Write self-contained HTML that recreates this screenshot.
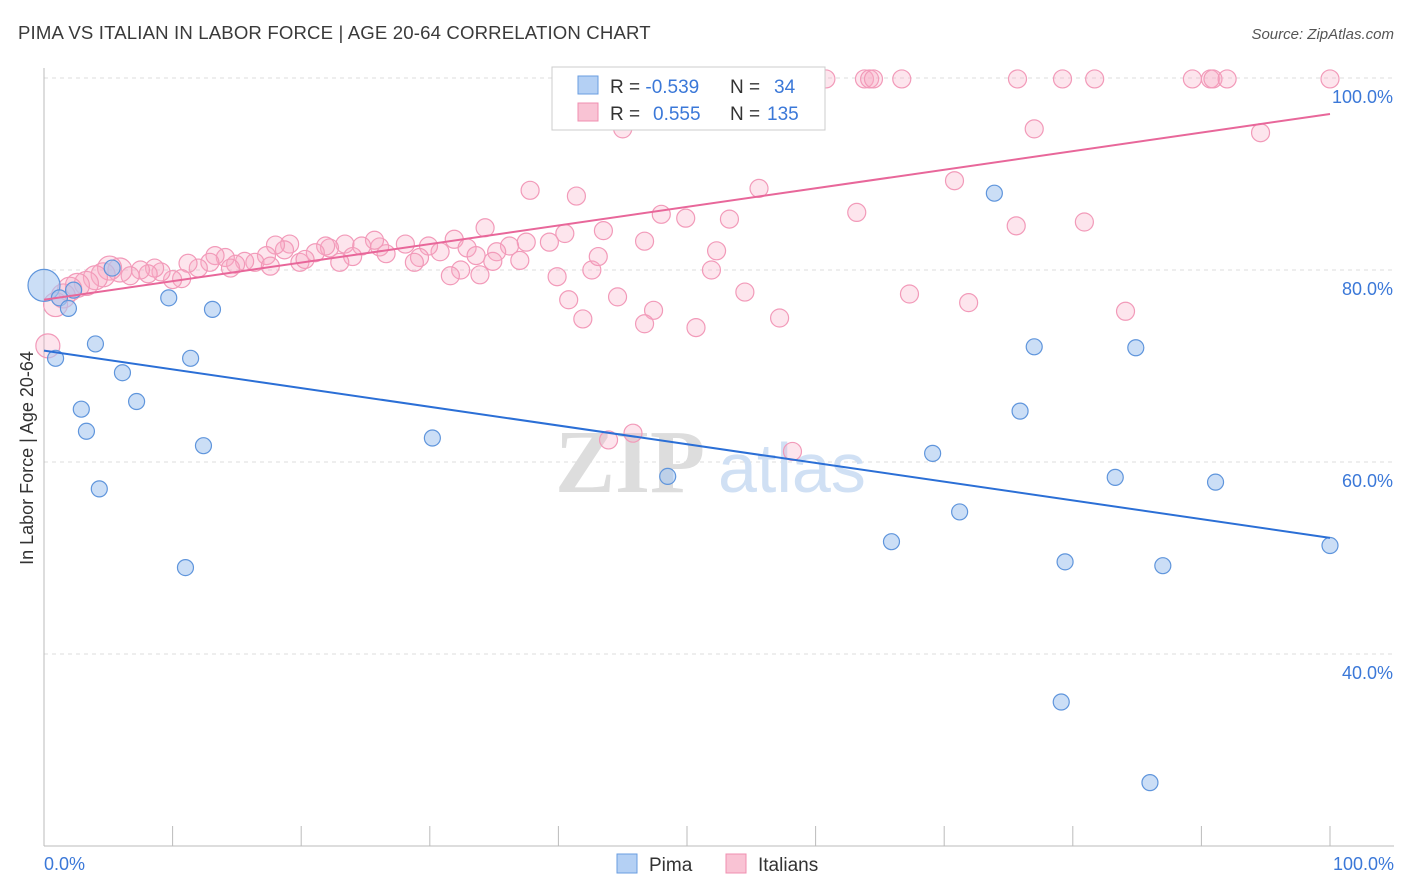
<!DOCTYPE html>
<html><head><meta charset="utf-8"><style>
body{margin:0;background:#fff;font-family:"Liberation Sans",sans-serif;}
svg{display:block}
</style></head><body>
<svg id="chart" width="1406" height="892">
<text x="18" y="39" font-size="18.6" letter-spacing="0.15" fill="#3a3a3a">PIMA VS ITALIAN IN LABOR FORCE | AGE 20-64 CORRELATION CHART</text>
<text x="1394" y="39" font-size="15" fill="#555" text-anchor="end" font-style="italic">Source: ZipAtlas.com</text>
<text x="33" y="458" font-size="18" fill="#333" text-anchor="middle" transform="rotate(-90 33 458)">In Labor Force | Age 20-64</text>
<g id="grid"></g>
<text x="555" y="492" font-size="90" fill="#ddd" font-family="Liberation Serif" font-weight="bold">ZIP</text>
<text x="718" y="492" font-size="70" fill="#d0e0f4">atlas</text>
<g id="pts"></g>
<g id="lines"></g>
<g>
<rect x="552" y="67" width="273" height="63" fill="#fff" stroke="#ccc"/>
<rect x="578" y="76" width="20" height="18" fill="#b4d0f4" stroke="#6a9ee0"/>
<rect x="578" y="103" width="20" height="18" fill="#f9c3d4" stroke="#f08fb0"/>
<text x="610" y="93" font-size="19" fill="#333">R = <tspan fill="#3b78d8">-0.539</tspan><tspan x="730">N = </tspan><tspan fill="#3b78d8" x="774">34</tspan></text>
<text x="610" y="120" font-size="19" fill="#333">R = <tspan fill="#3b78d8" x="653">0.555</tspan><tspan x="730">N = </tspan><tspan fill="#3b78d8" x="767">135</tspan></text>
</g>
<g>
<rect x="617" y="854" width="20" height="19" fill="#b4d0f4" stroke="#6a9ee0"/>
<text x="649" y="871" font-size="19" fill="#333">Pima</text>
<rect x="726" y="854" width="20" height="19" fill="#f9c3d4" stroke="#f08fb0"/>
<text x="758" y="871" font-size="19" fill="#333">Italians</text>
</g>
</svg>
<script>
const yTicks=[40,60,80,100];
const yTickLabels=["40.0%","60.0%","80.0%","100.0%"];
const xTickLabels=["0.0%","100.0%"];
const pimaX=[0,0.9,1.2,1.9,2.3,4.0,2.9,3.3,4.3,6.1,7.2,5.3,9.7,11.4,13.1,12.4,11.0,30.2,48.5,65.9,69.1,71.2,73.9,75.9,77.0,79.4,83.3,84.9,87.0,91.1,100,79.1,86.0];
const pimaY=[78.4,70.8,77.1,76.0,77.9,72.3,65.5,63.2,57.2,69.3,66.3,80.2,77.1,70.8,75.9,61.7,49.0,62.5,58.5,51.7,60.9,54.8,88.0,65.3,72.0,49.6,58.4,71.9,49.2,57.9,51.3,35.0,26.6];
const itaX=[48.1,53.0,53.7,55.7,56.3,56.7,58.8,60.8,63.8,64.2,64.5,66.7,75.7,79.2,81.7,89.3,90.7,90.9,92.0,100,
45.0,77.0,94.6,37.8,41.4,55.6,70.8,63.2,80.9,75.6,48.0,49.9,53.3,34.3,40.5,43.5,46.7,52.3,39.3,37.5,36.2,35.2,31.9,32.9,33.6,30.8,29.9,28.1,26.1,26.6,25.7,24.7,23.4,22.2,21.9,21.1,19.9,20.3,19.1,18.7,18.0,17.3,16.4,15.6,14.9,14.1,13.3,12.9,12.0,11.2,10.7,10.0,9.1,8.6,8.1,7.5,6.7,5.9,5.1,4.6,4.0,3.3,2.6,2.0,1.5,0.9,0.3,37.0,34.9,32.4,31.6,33.9,39.9,42.6,43.1,51.9,40.8,41.9,44.6,47.4,46.7,50.7,54.5,57.2,67.3,71.9,84.1,43.9,45.8,58.2,29.2,28.8,24.0,23.0,17.6,14.5];
const itaY=[99.9,99.9,99.9,99.9,99.9,99.9,99.9,99.9,99.9,99.9,99.9,99.9,99.9,99.9,99.9,99.9,99.9,99.9,99.9,99.9,
94.7,94.7,94.3,88.3,87.7,88.5,89.3,86.0,85.0,84.6,85.8,85.4,85.3,84.4,83.8,84.1,83.0,82.0,82.9,82.9,82.5,81.9,83.2,82.3,81.5,81.9,82.5,82.7,82.4,81.7,83.1,82.5,82.7,82.3,82.5,81.8,80.8,81.1,82.7,82.1,82.6,81.5,80.8,80.9,80.6,81.3,81.5,80.8,80.2,80.7,79.1,79.0,79.8,80.2,79.6,80.0,79.4,80.0,80.2,79.5,79.2,78.6,78.4,78.0,77.3,76.4,72.1,81.0,80.9,80.0,79.4,79.5,79.3,80.0,81.4,80.0,76.9,74.9,77.2,75.8,74.4,74.0,77.7,75.0,77.5,76.6,75.7,62.3,63.0,61.1,81.3,80.8,81.4,80.8,80.4,80.2];
const pimaTrend=[71.6,52.1];
const itaTrend=[76.9,96.25];
const NS="http://www.w3.org/2000/svg";
const X=v=>44+v*12.86, Y=v=>78+(100-v)*9.6;
function mk(t,a,p){const e=document.createElementNS(NS,t);for(const k in a)e.setAttribute(k,a[k]);p.appendChild(e);return e;}
const grid=document.getElementById('grid');
yTicks.forEach((t,i)=>{
 const l=mk('line',{x1:44,x2:1394,y1:Y(t),y2:Y(t),stroke:'#ddd','stroke-dasharray':'4 4'},grid);
 
 
 const tx=mk('text',{x:1393,y:Y(t)+25,'font-size':18,fill:'#3b78d8','text-anchor':'end'},grid);tx.textContent=yTickLabels[i];
 
 
});
const ax=mk('line',{x1:44,x2:44,y1:68,y2:846,stroke:'#bbb'},grid);


const bx=mk('line',{x1:44,x2:1394,y1:846,y2:846,stroke:'#bbb'},grid);


for(let i=1;i<=10;i++){const t=mk('line',{x1:X(i*10),x2:X(i*10),y1:826,y2:846,stroke:'#bbb'},grid);
 
 }
[[0,'start',44],[100,'end',1394]].forEach((d,i)=>{const t=mk('text',{x:d[2],y:870,'font-size':18,fill:'#3b78d8','text-anchor':d[1]},grid);t.textContent=xTickLabels[i];
 
 });
const pts=document.getElementById('pts');
itaX.forEach((x,i)=>{const r=x<1?12:(x<6?12:9);
 const c=mk('circle',{cx:X(x),cy:Y(itaY[i]),r:r,fill:'rgba(247,170,196,0.3)',stroke:'#f29ab9','stroke-width':1.2},pts);
 
 });
pimaX.forEach((x,i)=>{const r=i==0?16:8;
 const c=mk('circle',{cx:X(x),cy:Y(pimaY[i]),r:r,fill:'rgba(168,200,240,0.6)',stroke:'#5f95dc','stroke-width':1.2},pts);
 
 });
const lines=document.getElementById('lines');
const l1=mk('line',{x1:X(0),x2:X(100),y1:Y(pimaTrend[0]),y2:Y(pimaTrend[1]),stroke:'#2b6fd6','stroke-width':2},lines);


const l2=mk('line',{x1:X(0),x2:X(100),y1:Y(itaTrend[0]),y2:Y(itaTrend[1]),stroke:'#e8679a','stroke-width':2},lines);


</script>
</body></html>
